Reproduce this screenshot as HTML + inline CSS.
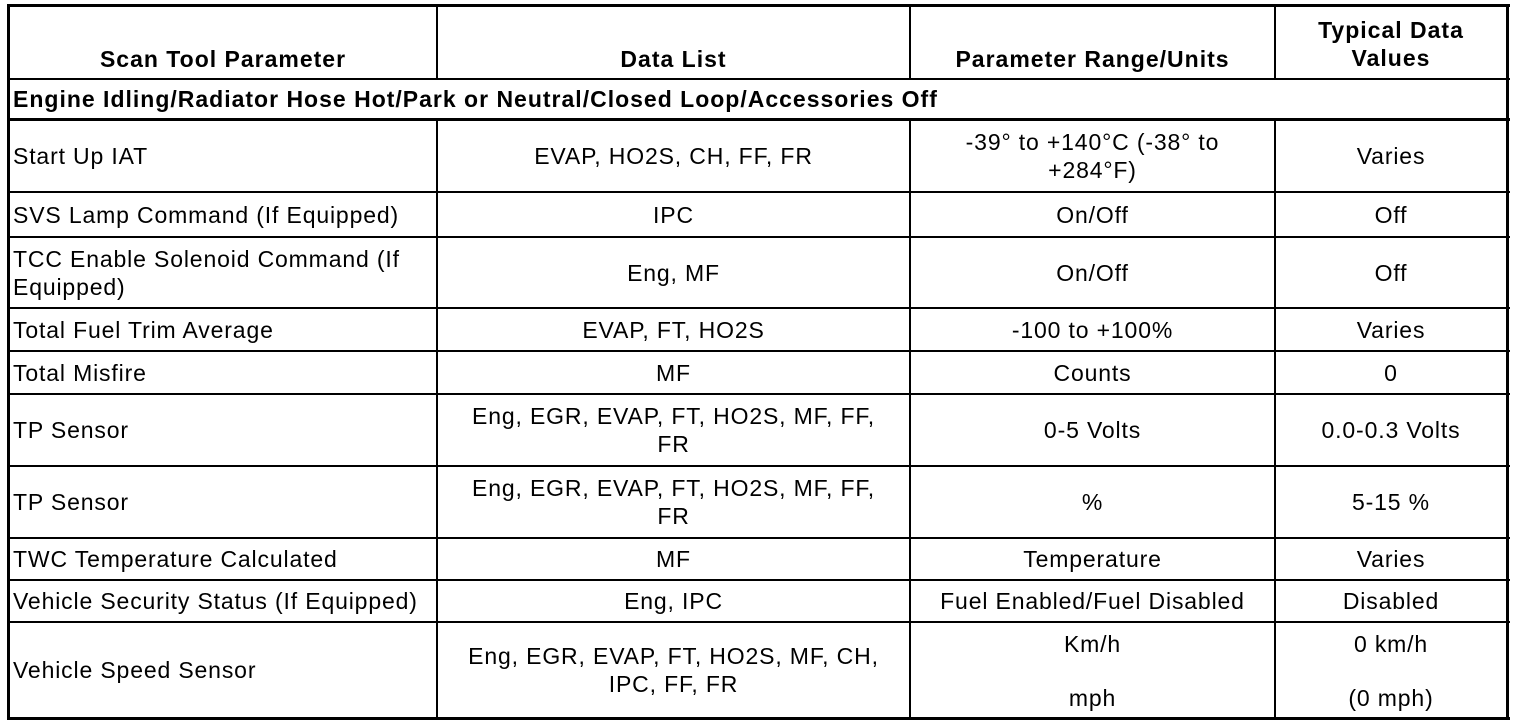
<!DOCTYPE html>
<html><head><meta charset="utf-8"><style>
body{margin:0;width:1520px;height:726px;background:#fff;position:relative;overflow:hidden;font-family:"Liberation Sans",Arial,sans-serif;font-size:23px;letter-spacing:0.85px;color:#000}
.h{position:absolute;background:#000;height:2px}
.v{position:absolute;background:#000;width:2px}
.c{position:absolute;display:flex;align-items:center;justify-content:center;text-align:center;line-height:28px;box-sizing:border-box;white-space:nowrap}
.l{justify-content:flex-start;text-align:left;padding-left:3px}
.b{font-weight:bold;letter-spacing:1px}
</style></head><body>
<div class="h" style="left:7px;top:4px;width:1503px;height:3px"></div>
<div class="h" style="left:7px;top:78px;width:1503px"></div>
<div class="h" style="left:7px;top:118px;width:1503px;height:3px"></div>
<div class="h" style="left:7px;top:191px;width:1503px"></div>
<div class="h" style="left:7px;top:236px;width:1503px"></div>
<div class="h" style="left:7px;top:307px;width:1503px"></div>
<div class="h" style="left:7px;top:350px;width:1503px"></div>
<div class="h" style="left:7px;top:393px;width:1503px"></div>
<div class="h" style="left:7px;top:465px;width:1503px"></div>
<div class="h" style="left:7px;top:537px;width:1503px"></div>
<div class="h" style="left:7px;top:579px;width:1503px"></div>
<div class="h" style="left:7px;top:621px;width:1503px"></div>
<div class="h" style="left:7px;top:717px;width:1503px;height:3px"></div>
<div class="v" style="left:7px;top:4px;height:716px;width:3px"></div>
<div class="v" style="left:1506px;top:4px;height:716px;width:3px"></div>
<div class="v" style="left:436px;top:4px;height:75px"></div>
<div class="v" style="left:909px;top:4px;height:75px"></div>
<div class="v" style="left:1274px;top:4px;height:75px"></div>
<div class="v" style="left:436px;top:119px;height:600px"></div>
<div class="v" style="left:909px;top:119px;height:600px"></div>
<div class="v" style="left:1274px;top:119px;height:600px"></div>

<div class="c b" style="left:10px;top:44px;width:426px;height:30px">Scan Tool Parameter</div>
<div class="c b" style="left:438px;top:44px;width:471px;height:30px">Data List</div>
<div class="c b" style="left:911px;top:44px;width:363px;height:30px">Parameter Range/Units</div>
<div class="c b" style="left:1276px;top:14px;width:230px;height:60px">Typical Data<br>Values</div>
<div class="c l b" style="left:10px;top:80px;width:1400px;height:38px">Engine Idling/Radiator Hose Hot/Park or Neutral/Closed Loop/Accessories Off</div>

<div class="c l" style="left:10px;top:121px;width:426px;height:70px">Start Up IAT</div>
<div class="c" style="left:438px;top:121px;width:471px;height:70px">EVAP, HO2S, CH, FF, FR</div>
<div class="c" style="left:911px;top:121px;width:363px;height:70px">-39° to +140°C (-38° to<br>+284°F)</div>
<div class="c" style="left:1276px;top:121px;width:230px;height:70px">Varies</div>

<div class="c l" style="left:10px;top:193px;width:426px;height:43px">SVS Lamp Command (If Equipped)</div>
<div class="c" style="left:438px;top:193px;width:471px;height:43px">IPC</div>
<div class="c" style="left:911px;top:193px;width:363px;height:43px">On/Off</div>
<div class="c" style="left:1276px;top:193px;width:230px;height:43px">Off</div>

<div class="c l" style="left:10px;top:238px;width:426px;height:69px">TCC Enable Solenoid Command (If<br>Equipped)</div>
<div class="c" style="left:438px;top:238px;width:471px;height:69px">Eng, MF</div>
<div class="c" style="left:911px;top:238px;width:363px;height:69px">On/Off</div>
<div class="c" style="left:1276px;top:238px;width:230px;height:69px">Off</div>

<div class="c l" style="left:10px;top:309px;width:426px;height:41px">Total Fuel Trim Average</div>
<div class="c" style="left:438px;top:309px;width:471px;height:41px">EVAP, FT, HO2S</div>
<div class="c" style="left:911px;top:309px;width:363px;height:41px">-100 to +100%</div>
<div class="c" style="left:1276px;top:309px;width:230px;height:41px">Varies</div>

<div class="c l" style="left:10px;top:352px;width:426px;height:41px">Total Misfire</div>
<div class="c" style="left:438px;top:352px;width:471px;height:41px">MF</div>
<div class="c" style="left:911px;top:352px;width:363px;height:41px">Counts</div>
<div class="c" style="left:1276px;top:352px;width:230px;height:41px">0</div>

<div class="c l" style="left:10px;top:395px;width:426px;height:70px">TP Sensor</div>
<div class="c" style="left:438px;top:395px;width:471px;height:70px">Eng, EGR, EVAP, FT, HO2S, MF, FF,<br>FR</div>
<div class="c" style="left:911px;top:395px;width:363px;height:70px">0-5 Volts</div>
<div class="c" style="left:1276px;top:395px;width:230px;height:70px">0.0-0.3 Volts</div>

<div class="c l" style="left:10px;top:467px;width:426px;height:70px">TP Sensor</div>
<div class="c" style="left:438px;top:467px;width:471px;height:70px">Eng, EGR, EVAP, FT, HO2S, MF, FF,<br>FR</div>
<div class="c" style="left:911px;top:467px;width:363px;height:70px">%</div>
<div class="c" style="left:1276px;top:467px;width:230px;height:70px">5-15 %</div>

<div class="c l" style="left:10px;top:539px;width:426px;height:40px">TWC Temperature Calculated</div>
<div class="c" style="left:438px;top:539px;width:471px;height:40px">MF</div>
<div class="c" style="left:911px;top:539px;width:363px;height:40px">Temperature</div>
<div class="c" style="left:1276px;top:539px;width:230px;height:40px">Varies</div>

<div class="c l" style="left:10px;top:581px;width:426px;height:40px">Vehicle Security Status (If Equipped)</div>
<div class="c" style="left:438px;top:581px;width:471px;height:40px">Eng, IPC</div>
<div class="c" style="left:911px;top:581px;width:363px;height:40px">Fuel Enabled/Fuel Disabled</div>
<div class="c" style="left:1276px;top:581px;width:230px;height:40px">Disabled</div>

<div class="c l" style="left:10px;top:623px;width:426px;height:94px">Vehicle Speed Sensor</div>
<div class="c" style="left:438px;top:623px;width:471px;height:94px">Eng, EGR, EVAP, FT, HO2S, MF, CH,<br>IPC, FF, FR</div>
<div class="c" style="left:911px;top:630px;width:363px;height:28px">Km/h</div>
<div class="c" style="left:911px;top:684px;width:363px;height:28px">mph</div>
<div class="c" style="left:1276px;top:630px;width:230px;height:28px">0 km/h</div>
<div class="c" style="left:1276px;top:684px;width:230px;height:28px">(0 mph)</div>
</body></html>
